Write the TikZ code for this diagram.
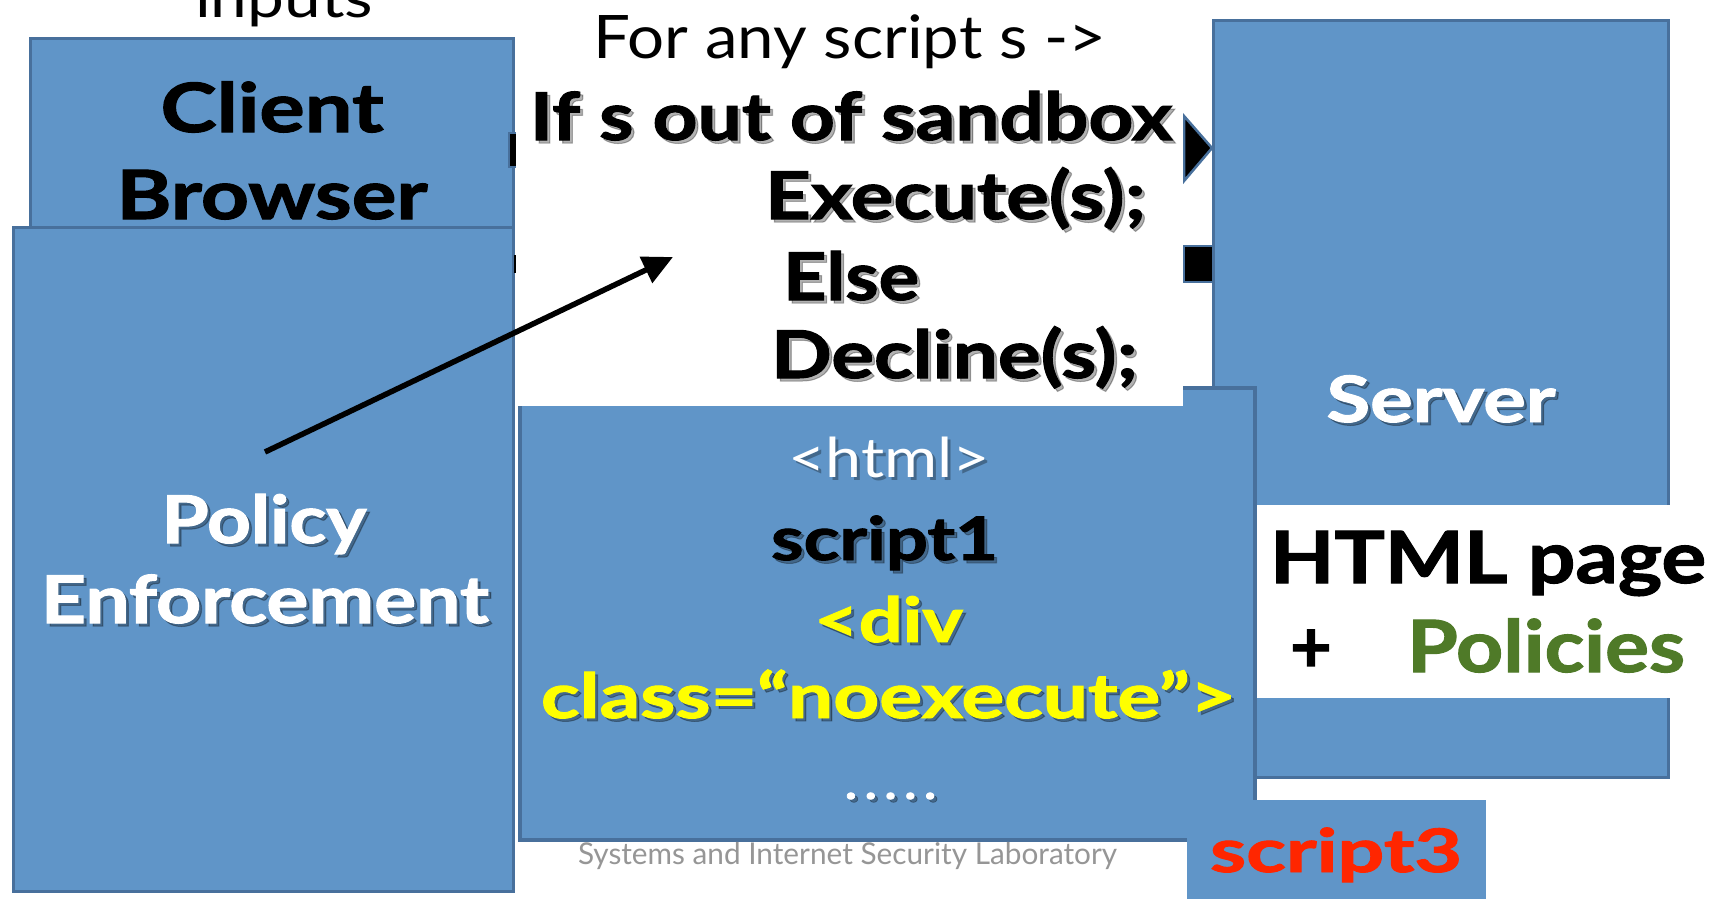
\documentclass[tikz,border=0pt]{standalone}
\usepackage{fontspec}
\setmainfont{Lato}[BoldFeatures={FakeBold=1.5}]
\usetikzlibrary{arrows.meta,calc}
\definecolor{boxblue}{RGB}{96,149,200}
\definecolor{boxedge}{RGB}{72,112,156}
\definecolor{polgreen}{RGB}{79,122,40}
\definecolor{scrred}{RGB}{255,38,0}
\definecolor{footgray}{RGB}{150,150,150}
\definecolor{divyellow}{RGB}{255,255,0}
\newcommand{\fw}[3]{\resizebox{#1pt}{\height}{\fontsize{#2}{#2}\selectfont #3}}
\newcommand{\shnode}[5]{%
  \node[lbl, anchor=#3, text=black, text opacity=0.3] (#1-sh) at ($#2+(3,3)$) {#5};
  \node[lbl, anchor=#3, text=#4] (#1) at #2 {#5};}
\tikzset{
  box/.style={draw=boxedge, line width=3pt, fill=boxblue, inner sep=0pt, outer sep=0pt, anchor=north west},
  plain/.style={inner sep=0pt, outer sep=0pt, anchor=north west},
  lbl/.style={inner sep=0pt, outer sep=0pt},
  stub/.style={draw=boxedge, fill=black, line width=2pt, inner sep=0pt, outer sep=0pt, anchor=north west},
}
\begin{document}
\begin{tikzpicture}[x=1pt,y=-1pt]
\useasboundingbox (0,0) rectangle (1720,898);
\fill[white] (0,0) rectangle (1720,898);
% left boxes
\node[box, minimum width=483pt, minimum height=190pt] (client) at (30,38) {};
\node[box, minimum width=500pt, minimum height=664pt] (policy) at (13,227) {};
\node[stub, minimum width=8pt, minimum height=34pt] (stubA) at (509,133) {};
\node[stub, draw=none, minimum width=3pt, minimum height=18pt] (stubB) at (514,255) {};
% server
\node[box, minimum width=455pt, minimum height=757pt] (server) at (1213,20) {};
\coordinate (triA) at (1184,116);
\coordinate (triB) at (1212,148);
\coordinate (triC) at (1184,181);
\filldraw[draw=boxedge, fill=black, line width=2.5pt, line join=miter] (triA) -- (triB) -- (triC) -- cycle;
\node[stub, line width=2.5pt, minimum width=29pt, minimum height=36pt] (stubC) at (1184,246) {};
\node[plain, fill=white, minimum width=464pt, minimum height=193pt] (pagebg) at (1256,505) {};
% html box
\node[box, line width=4pt, minimum width=735pt, minimum height=452pt] (htmlbox) at (520,388) {};
\node[plain, fill=white, minimum width=667pt, minimum height=406pt] (codebg) at (516,0) {};
\node[plain, fill=boxblue, minimum width=299pt, minimum height=100pt] (s3box) at (1187,800) {};
% arrow
\coordinate (arrS) at (265,452);
\coordinate (arrE) at (673,257);
\draw[line width=5.5pt, -{Triangle[length=30pt,width=28pt]}] (arrS) -- (arrE);
% texts
\node[lbl, anchor=base] (inputs) at (284,17) {\fw{178}{55}{inputs}};
\node[lbl, anchor=base] (forany) at (850,58) {\fw{513}{60}{For any script s ->}};
\shnode{ifs}{(530,140)}{base west}{black}{\fw{642}{66}{\bfseries If s out of sandbox}}
\shnode{exec}{(765,219)}{base west}{black}{\fw{381}{66}{\bfseries Execute(s);}}
\shnode{else}{(783,300)}{base west}{black}{\fw{136}{66}{\bfseries Else}}
\shnode{decl}{(771,378)}{base west}{black}{\fw{367}{66}{\bfseries Decline(s);}}
\node[lbl, anchor=base] (clientT) at (272,132) {\fw{223}{68}{\bfseries Client}};
\node[lbl, anchor=base] (browserT) at (272,219) {\fw{311}{68}{\bfseries Browser}};
\shnode{policyT}{(264,543)}{base}{white}{\fw{205}{66}{\bfseries Policy}}
\shnode{enfT}{(265,623)}{base}{white}{\fw{448}{66}{\bfseries Enforcement}}
\shnode{serverT}{(1441,422)}{base}{white}{\fw{229}{64}{\bfseries Server}}
\shnode{htmlT}{(889,477)}{base}{white}{\fw{202}{55}{<html>}}
\shnode{scr1}{(771,560)}{base west}{black}{\fw{227}{60}{\bfseries script1}}
\shnode{divT}{(814,642)}{base west}{divyellow}{\fw{149}{62}{\bfseries <div}}
\shnode{classT}{(541,718)}{base west}{divyellow}{\fw{695}{62}{\bfseries class=“noexecute”>}}
\shnode{dots}{(845,799)}{base west}{white}{\fw{91}{44}{\bfseries .\kern7pt.\kern7pt.\kern7pt.\kern7pt.}}
\node[lbl, anchor=base west, text=footgray] (footer) at (578,864) {\fw{539}{30}{Systems and Internet Security Laboratory}};
\node[lbl, anchor=base west, text=scrred] (scr3) at (1210,872) {\fw{252}{60}{\bfseries script3}};
\node[lbl, anchor=base west] (htmlpage) at (1270,583) {\fw{436}{72}{\bfseries HTML page}};
\node[lbl, anchor=base] (plus) at (1311,672) {\fw{42}{72}{\bfseries +}};
\node[lbl, anchor=base west, text=polgreen] (policies) at (1407,672) {\fw{278}{72}{\bfseries Policies}};
\end{tikzpicture}
\end{document}
